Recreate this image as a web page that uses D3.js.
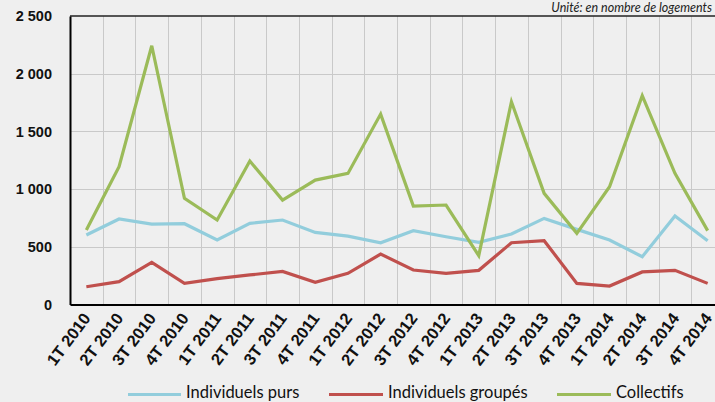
<!DOCTYPE html>
<html>
<head>
<meta charset="utf-8">
<script src="https://cdn.jsdelivr.net/npm/d3@7"></script>
<style>
  html, body { margin: 0; padding: 0; background: #efefef; }
  svg { display: block; font-family: Lato, "Open Sans", sans-serif; }
</style>
</head>
<body>
<div id="chart"></div>
<script>
// Data
const quarters = ['1T 2010', '2T 2010', '3T 2010', '4T 2010', '1T 2011', '2T 2011', '3T 2011', '4T 2011',
    '1T 2012', '2T 2012', '3T 2012', '4T 2012', '1T 2013', '2T 2013', '3T 2013', '4T 2013',
    '1T 2014', '2T 2014', '3T 2014', '4T 2014'];
const individuelsPurs = [602, 741, 697, 700, 559, 703, 732, 625, 593, 535, 640, 587, 539, 611, 746, 651, 559, 414, 767, 553];
const individuelsGroupes = [154, 198, 365, 183, 224, 256, 287, 192, 270, 437, 299, 270, 296, 535, 553, 183, 160, 282, 296, 183];
const collectifs = [645, 1194, 2242, 920, 732, 1243, 905, 1078, 1136, 1650, 853, 862, 423, 1757, 963, 617, 1020, 1809, 1136, 640];
const yTicks = [0, 500, 1000, 1500, 2000, 2500];

const seriesList = [
    { name: 'Individuels purs', values: individuelsPurs, color: '#92cddc' },
    { name: 'Individuels groupés', values: individuelsGroupes, color: '#c0504d' },
    { name: 'Collectifs', values: collectifs, color: '#9bbb59' }
];

const W = 715, H = 402;
// the plot area runs past the right edge of the picture, as in the original
const plot = { left: 70, top: 16, right: 724, bottom: 304.5 };

const svg = d3.select('#chart').append('svg')
    .attr('width', W)
    .attr('height', H)
    .style('overflow', 'hidden');

svg.append('rect').attr('width', W).attr('height', H).attr('fill', '#efefef');

// Scales
const x = d3.scaleBand()
    .domain(quarters)
    .range([plot.left, plot.right])
    .padding(0);

const y = d3.scaleLinear()
    .domain([0, 2500])
    .range([plot.bottom, plot.top]);

const fmt = v => d3.format(',')(v).replace(/,/g, '\u00a0');

// Gridlines
const grid = svg.append('g').attr('stroke', '#c9c9c9').attr('stroke-width', 1);
yTicks.slice(1, -1).forEach(t => {
    grid.append('line')
        .attr('x1', plot.left).attr('x2', plot.right)
        .attr('y1', Math.round(y(t)) + 0.5).attr('y2', Math.round(y(t)) + 0.5);
});
quarters.slice(1).forEach(q => {
    grid.append('line')
        .attr('x1', Math.round(x(q)) + 0.5).attr('x2', Math.round(x(q)) + 0.5)
        .attr('y1', plot.top).attr('y2', plot.bottom);
});

// Plot border (top) and axes
svg.append('line')
    .attr('x1', plot.left).attr('x2', plot.right)
    .attr('y1', plot.top).attr('y2', plot.top)
    .attr('stroke', '#222').attr('stroke-width', 1.5);

const yAxis = svg.append('g')
    .attr('transform', `translate(${plot.left},0)`)
    .call(d3.axisLeft(y).tickValues(yTicks).tickSize(0).tickPadding(18).tickFormat(fmt));
yAxis.select('.domain').attr('stroke', '#000').attr('stroke-width', 2);
yAxis.selectAll('text')
    .style('font-size', '14.5px')
    .style('font-weight', 'bold')
    .attr('fill', '#111');

const xAxis = svg.append('g')
    .attr('transform', `translate(0,${plot.bottom})`)
    .call(d3.axisBottom(x).tickSize(0).tickPadding(0));
xAxis.select('.domain').attr('stroke', '#000').attr('stroke-width', 2);
xAxis.selectAll('text')
    .style('font-size', '16.5px')
    .style('font-weight', 'bold')
    .attr('fill', '#111')
    .attr('text-anchor', 'end')
    .attr('dy', 0)
    .attr('transform', 'translate(5,14) rotate(-53)');

// Lines
const line = d3.line()
    .x((d, i) => x(quarters[i]) + x.bandwidth() / 2)
    .y(d => y(d));

seriesList.forEach(s => {
    svg.append('path')
        .datum(s.values)
        .attr('d', line)
        .attr('fill', 'none')
        .attr('stroke', s.color)
        .attr('stroke-width', 3.2)
        .attr('stroke-linejoin', 'miter');
});

// Unit note
svg.append('text')
    .attr('x', 712)
    .attr('y', 12)
    .attr('text-anchor', 'end')
    .style('font-size', '12.5px')
    .style('font-style', 'italic')
    .attr('fill', '#222')
    .text('Unité: en nombre de logements');

// Legend
const legendItems = [
    { x: 128, w: 53 },
    { x: 329, w: 54 },
    { x: 557, w: 54 }
];
seriesList.forEach((s, i) => {
    const g = svg.append('g').attr('transform', `translate(${legendItems[i].x},394.5)`);
    g.append('line')
        .attr('x1', 0).attr('x2', legendItems[i].w)
        .attr('stroke', s.color).attr('stroke-width', 3.2);
    g.append('text')
        .attr('x', legendItems[i].w + 5)
        .attr('y', 3.5)
        .style('font-size', '16.5px')
        .attr('fill', '#111')
        .text(s.name);
});
</script>
</body>
</html>
